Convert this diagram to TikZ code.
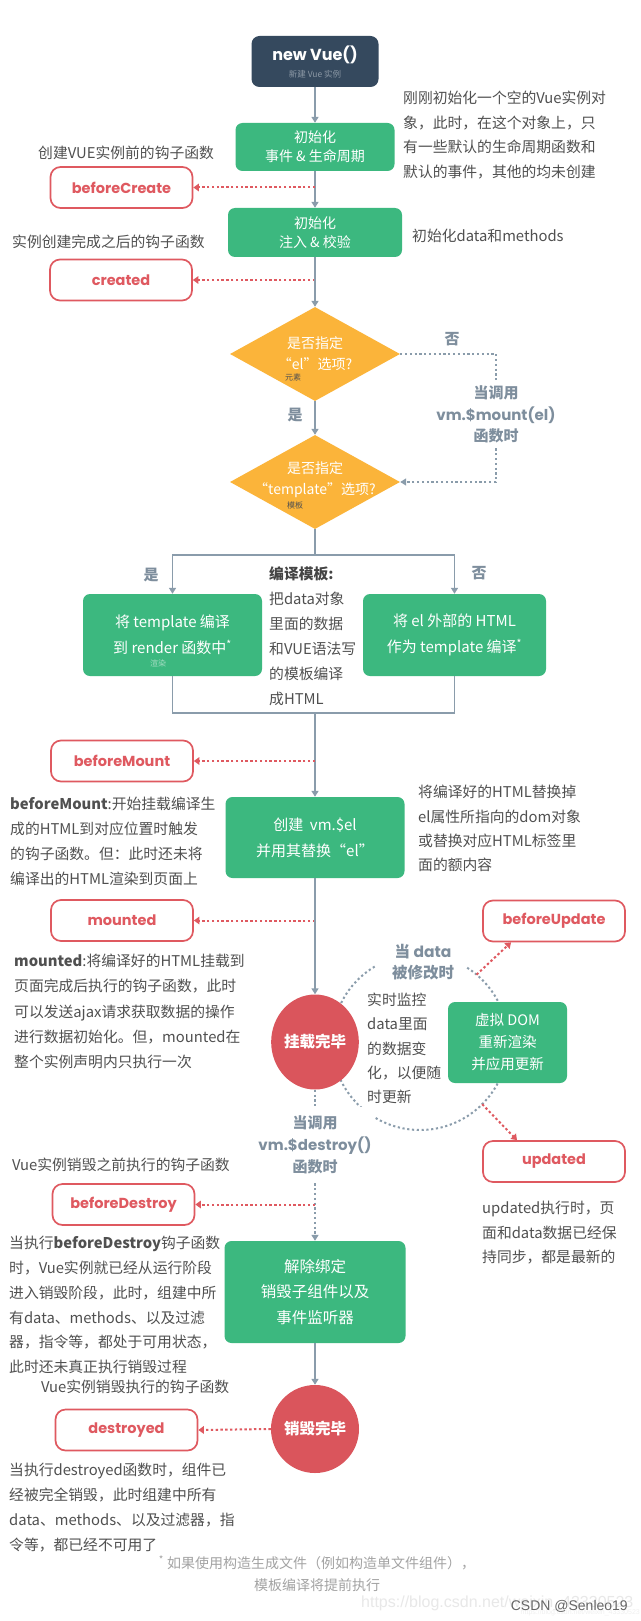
\documentclass[tikz,border=0pt]{standalone}
\usepackage{fontspec}
\setmainfont{Noto Sans CJK SC}
\newfontfamily\latf{Liberation Sans}
\newfontfamily\pop{Poppins}
\usetikzlibrary{arrows.meta,shapes.geometric,calc}
\definecolor{navy}{HTML}{35495E}
\definecolor{vgreen}{HTML}{3CB87F}
\definecolor{vorange}{HTML}{FBB43A}
\definecolor{vred}{HTML}{DA555C}
\definecolor{hred}{HTML}{DF5960}
\definecolor{lgrey}{HTML}{8A9CAB}
\definecolor{slate}{HTML}{7E8E9D}
\definecolor{tgrey}{HTML}{505050}
\definecolor{fgrey}{HTML}{A3A3A3}
\definecolor{subgrey}{HTML}{8C99A6}
\definecolor{lgreen}{HTML}{A5DDC3}
\newcommand\fs[2]{\fontsize{#1}{#2}\selectfont}
\begin{document}
\begin{tikzpicture}[x=1pt,y=-1pt,
  gline/.style={draw=lgrey,line width=1.8pt},
  garrow/.style={gline,-{Triangle[width=7pt,length=6pt]}},
  gdot/.style={draw=lgrey,line width=2pt,dash pattern=on 2.2pt off 2.6pt},
  gdotarrow/.style={gdot,-{Triangle[width=7pt,length=6pt]}},
  rdot/.style={draw=hred,line width=2pt,dash pattern=on 2.4pt off 2.4pt,-{Triangle[width=7.5pt,length=5.5pt]}},
  hook/.style={draw=hred,line width=1.7pt,rounded corners=10pt,fill=white,minimum width=142pt,minimum height=41pt,inner sep=0pt,text=hred,font=\pop\bfseries\fs{14.5}{14.5}},
  gbox/.style={fill=vgreen,rounded corners=7pt,text=white,align=center,inner sep=0pt},
  desc/.style={anchor=west,inner sep=0pt,text=tgrey,font=\fs{14.8}{14.8},text height=13pt,text depth=1.8pt},
  lbl/.style={inner sep=0pt,text=slate,font=\bfseries\fs{15}{21.5},align=center},
  small/.style={inner sep=0pt,font=\fs{8}{8}},
]
\fill[white] (0,0) rectangle (640,1621);
\useasboundingbox (0,0) rectangle (640,1621);

% update loop arc (drawn first, behind shapes)
\coordinate (arcC) at (420,1042);
\draw[gdot] ($(arcC)+(-121:88)$) arc[start angle=-121,end angle=-332,radius=88];
\draw[gdot] ($(arcC)+(-28:88)$) arc[start angle=-28,end angle=-58,radius=88];

% top
\node[fill=navy,rounded corners=8pt,minimum width=127pt,minimum height=51pt,inner sep=0pt] (nv) at (315,61.5) {};
\node[inner sep=0pt,text=white,font=\pop\bfseries\fs{16}{16}] (nvt) at (315,55) {new Vue()};
\node[inner sep=0pt,text=subgrey,font=\fs{8.5}{8.5}] (nvs) at (315,74) {新建 Vue 实例};

\node[gbox,minimum width=159pt,minimum height=48pt,font=\fs{14}{19}] (i1) at (315,147) {初始化\\事件 \& 生命周期};
\node[gbox,minimum width=174pt,minimum height=49pt,font=\fs{14}{19}] (i2) at (315,232.5) {初始化\\注入 \& 校验};
\node[hook] (bc) at (121.5,187.5) {beforeCreate};
\node[hook] (cr) at (121,280) {created};
\node[desc] (l1) at (38,153) {创建VUE实例前的钩子函数};
\node[desc] (l2) at (12,242) {实例创建完成之后的钩子函数};
\foreach \t [count=\i] in {刚刚初始化一个空的Vue实例对, 象，此时，在这个对象上，只, 有一些默认的生命周期函数和, 默认的事件，其他的均未创建}
  \node[desc] (ra-\i) at (403,{98+(\i-1)*24.5}) {\t};
\node[desc] (l3) at (412,236) {初始化data和methods};

\draw[garrow] (nv.south) -- (i1.north);
\draw[garrow] (i1.south) -- (i2.north);
\draw[rdot] (bc.east -| i1.south) -- (bc.east);
\draw[rdot] (cr.east -| i2.south) -- (cr.east);

% diamonds
\node[diamond,fill=vorange,minimum width=170pt,minimum height=94pt,inner sep=0pt] (d1) at (315,354) {};
\node[inner sep=0pt,text=white,font=\fs{14}{21},align=center] (d1t) at (315,353.5) {是否指定\\“el”选项?};
\node[small,text=tgrey] (d1s) at (293,377) {元素};
\node[diamond,fill=vorange,minimum width=170pt,minimum height=94pt,inner sep=0pt] (d2) at (315,482) {};
\node[inner sep=0pt,text=white,font=\fs{14}{21},align=center] (d2t) at (315,479.5) {是否指定\\“template”选项?};
\node[small,text=tgrey] (d2s) at (295,505) {模板};
\draw[garrow] (i2.south) -- (d1.north);
\draw[garrow] (d1.south) -- (d2.north);
\node[lbl] (no1) at (452,339) {否};
\node[lbl] (yes1) at (295,415) {是};
\node[lbl,fill=white,inner ysep=5pt,inner xsep=2pt] (ml) at (496,414.5) {当调用\\{\pop vm.\$mount(el)}\\函数时};
\draw[gdot] (d1.east) -| (ml.north);
\draw[gdotarrow] (ml.south) |- (d2.east);

% branches
\node[gbox,minimum width=179pt,minimum height=82pt,font=\fs{15}{26}] (lb) at (172.5,635) {将 template 编译\\到 render 函数中\textsuperscript{*}};
\node[small,text=lgreen] (lbs) at (158,663) {渲染};
\node[gbox,minimum width=183pt,minimum height=82pt,font=\fs{15}{26}] (rb) at (454.5,635) {将 el 外部的 HTML\\作为 template 编译\textsuperscript{*}};
\node[lbl,font=\fs{15}{15}\bfseries] (yes2) at (151,575) {是};
\node[lbl,font=\fs{15}{15}\bfseries] (no2) at (479,573) {否};
\node[desc,text=tgrey!85!black,font=\bfseries\fs{14.8}{14.8}] (ct) at (269,574) {编译模板:};
\foreach \t [count=\i] in {把data对象, 里面的数据, 和VUE语法写, 的模板编译, 成HTML}
  \node[desc] (cm-\i) at (269,{599+(\i-1)*25}) {\t};
\coordinate (br) at (315,555);
\coordinate (mg) at (315,713);
\draw[gline] (d2.south) -- (br);
\draw[garrow] (br) -| (lb.north);
\draw[garrow] (br) -| (rb.north);
\draw[gline] (lb.south) |- (mg) -| (rb.south);

% mount
\node[gbox,minimum width=179pt,minimum height=81pt,font=\fs{15}{26}] (vm) at (315,837.5) {创建 \ vm.\$el\\并用其替换“el”};
\draw[garrow] (mg) -- (vm.north);
\node[hook] (bm) at (122,761) {beforeMount};
\node[hook] (mo) at (122,920.5) {mounted};
\draw[rdot] (bm.east -| vm.north) -- (bm.east);
\draw[rdot] (mo.east -| vm.south) -- (mo.east);
\foreach \t [count=\i] in {将编译好的HTML替换掉, el属性所指向的dom对象, 或替换对应HTML标签里, 面的额内容}
  \node[desc] (rb-\i) at (418,{792+(\i-1)*24.4}) {\t};
\foreach \t [count=\i] in {\textbf{beforeMount}:开始挂载编译生, 成的HTML到对应位置时触发, 的钩子函数。但：此时还未将, 编译出的HTML渲染到页面上}
  \node[desc] (bmd-\i) at (10,{804+(\i-1)*25}) {\t};
\foreach \t [count=\i] in {\textbf{mounted}:将编译好的HTML挂载到, 页面完成后执行的钩子函数，此时, 可以发送ajax请求获取数据的操作, 进行数据初始化。但，mounted在, 整个实例声明内只执行一次}
  \node[desc] (mod-\i) at (14,{961+(\i-1)*25.2}) {\t};

\node[ellipse,fill=vred,minimum width=86pt,minimum height=95pt,inner sep=0pt,text=white,font=\bfseries\fs{15.5}{15.5}] (mc) at (315,1042) {挂载完毕};
\draw[garrow] (vm.south) -- (mc.north);

% update loop
\node[gbox,minimum width=119pt,minimum height=81pt,font=\fs{14.5}{22}] (vd) at (507.5,1042.5) {虚拟 DOM\\重新渲染\\并应用更新};
\node[hook] (bu) at (554,921) {beforeUpdate};
\node[hook] (up) at (554,1161.5) {updated};
\node[lbl,font=\bfseries\fs{15.5}{21}] (wd) at (423,962.5) {当 {\pop data}\\被修改时};
\foreach \t [count=\i] in {实时监控, data里面, 的数据变, 化，以便随, 时更新}
  \node[desc] (md-\i) at (367,{1000+(\i-1)*24.3}) {\t};
\coordinate (a1) at ($(arcC)+(-50:88)$);
\coordinate (a1e) at ($(bu.south)+(-43,0)$);
\draw[rdot] (a1) -- (a1e);
\coordinate (a2) at ($(arcC)+(45:88)$);
\coordinate (a2e) at ($(up.north)+(-37,0)$);
\draw[rdot] (a2) -- (a2e);
\foreach \t [count=\i] in {updated执行时，页, 面和data数据已经保, 持同步，都是最新的}
  \node[desc] (upd-\i) at (482,{1208+(\i-1)*24.5}) {\t};

% destroy
\node[lbl,fill=white,inner ysep=9pt,inner xsep=2pt,font=\bfseries\fs{15}{22}] (dl) at (315,1145) {当调用\\{\pop vm.\$destroy()}\\函数时};
\node[gbox,minimum width=181pt,minimum height=102pt,font=\fs{15.5}{25.5}] (db) at (315,1292) {解除绑定\\销毁子组件以及\\事件监听器};
\draw[gdot] (mc.south) -- (dl.north);
\draw[gdotarrow] (dl.south) -- (db.north);
\node[hook] (bd) at (123.5,1204.5) {beforeDestroy};
\draw[rdot] (bd.east -| db.north) -- (bd.east);
\node[desc] (l4) at (12,1165) {Vue实例销毁之前执行的钩子函数};
\foreach \t [count=\i] in {当执行\textbf{beforeDestroy}钩子函数, 时，Vue实例就已经从运行阶段, 进入销毁阶段，此时，组建中所, 有data、methods、以及过滤, 器，指令等，都处于可用状态，, 此时还未真正执行销毁过程}
  \node[desc] (bdd-\i) at (9,{1243+(\i-1)*24.8}) {\t};
\node[desc] (l5) at (41,1387) {Vue实例销毁执行的钩子函数};

\node[circle,fill=vred,minimum size=88pt,inner sep=0pt,text=white,font=\bfseries\fs{15.5}{15.5}] (dc) at (315,1429) {销毁完毕};
\draw[garrow] (db.south) -- (dc.north);
\node[hook] (ds) at (126.5,1430) {destroyed};
\draw[rdot] (dc.west) -- (ds.east);
\foreach \t [count=\i] in {当执行destroyed函数时，组件已, 经被完全销毁，此时组建中所有, data、methods、以及过滤器，指, 令等，都已经不可用了}
  \node[desc] (dsd-\i) at (9,{1470+(\i-1)*25}) {\t};

% footnote and watermark
\node[inner sep=0pt,text=fgrey,font=\fs{14}{22},align=center] (fn) at (317,1574) {\textsuperscript{*} 如果使用构造生成文件（例如构造单文件组件），\\模板编译将提前执行};
\node[anchor=west,inner sep=0pt,text=black!9,font=\latf\fs{16}{16}] (wm) at (361,1603) {https://blog.csdn.net/weixin\_43330523};
\node[anchor=east,inner sep=0pt,text=black!6,font=\latf\fs{7}{7}] (wm2) at (640,1613) {https://blog.csdn.net/weixin\_43330523};
\node[anchor=east,inner sep=0pt,text=black!60,font=\latf\fs{14}{14}] (csdn) at (628,1606) {CSDN @Senleo19};
\end{tikzpicture}
\end{document}
